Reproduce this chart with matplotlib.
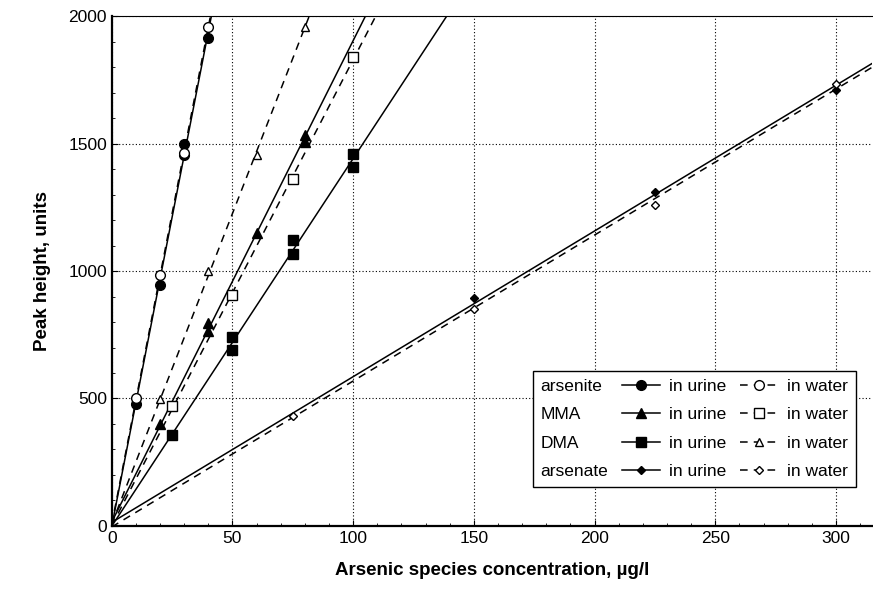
import numpy as np
import matplotlib.pyplot as plt
from matplotlib.lines import Line2D

plt.rcParams['font.family'] = ['Liberation Sans', 'DejaVu Sans']

# arsenite
as3_urine_x = [0, 10, 20, 30, 30, 40]
as3_urine_y = [0, 480, 945, 1500, 1455, 1915]
as3_water_x = [0, 10, 20, 30, 40]
as3_water_y = [0, 500, 985, 1465, 1957]
# MMA
mma_urine_x = [0, 20, 40, 40, 60, 80, 80]
mma_urine_y = [0, 400, 795, 765, 1150, 1535, 1505]
mma_water_x = [0, 25, 50, 75, 100]
mma_water_y = [0, 470, 905, 1360, 1840]
# DMA
dma_urine_x = [0, 25, 50, 50, 75, 75, 100, 100]
dma_urine_y = [0, 357, 690, 741, 1065, 1120, 1410, 1460]
dma_water_x = [0, 20, 40, 60, 80]
dma_water_y = [0, 498, 1000, 1455, 1957]
# arsenate
as5_urine_x = [0, 150, 225, 300]
as5_urine_y = [0, 894, 1310, 1710]
as5_water_x = [0, 75, 150, 225, 300]
as5_water_y = [0, 431, 851, 1259, 1733]

species = ['arsenite', 'MMA', 'DMA', 'arsenate']

fig = plt.figure(figsize=(8.73, 5.99), dpi=100)
ax = fig.add_axes([0.128, 0.122, 0.871, 0.851])

xmax = 315
xs = np.array([0, xmax])


def draw(x, y, marker, ms, filled, dashed):
    k, b = np.polyfit(x, y, 1)
    ls = (0, (5, 4)) if dashed else '-'
    ax.plot(xs, k * xs + b, color='black', lw=1.1, ls=ls, zorder=2)
    fc = 'black' if filled else 'white'
    ax.plot(x[1:], y[1:], ls='none', marker=marker, ms=ms, mfc=fc,
            mec='black', mew=1.0, zorder=3)
    return Line2D([], [], color='black', lw=1.1, ls=ls, marker=marker,
                  ms=ms, mfc=fc, mec='black')


h_urine = [
    draw(as3_urine_x, as3_urine_y, 'o', 7, True, False),
    draw(mma_urine_x, mma_urine_y, '^', 7, True, False),
    draw(dma_urine_x, dma_urine_y, 's', 7, True, False),
    draw(as5_urine_x, as5_urine_y, 'D', 4, True, False),
]
h_water = [
    draw(as3_water_x, as3_water_y, 'o', 7, False, True),
    draw(mma_water_x, mma_water_y, 's', 7, False, True),
    draw(dma_water_x, dma_water_y, '^', 6, False, True),
    draw(as5_water_x, as5_water_y, 'D', 4, False, True),
]

ax.set_xlim(0, xmax)
ax.set_ylim(0, 2000)
ax.set_xticks([0, 50, 100, 150, 200, 250, 300])
ax.set_yticks([0, 500, 1000, 1500, 2000])
ax.set_xticks(np.arange(0, xmax, 10), minor=True)
ax.set_yticks(np.arange(0, 2001, 100), minor=True)
ax.tick_params(axis='both', which='major', labelsize=12.5, length=4, direction='in')
ax.tick_params(axis='both', which='minor', length=2, direction='in')
ax.grid(True, which='major', ls=(0, (1, 2)), color='black', lw=0.8)
ax.spines['right'].set_visible(False)
for s in ['left', 'bottom']:
    ax.spines[s].set_linewidth(1.6)

ax.set_xlabel('Arsenic species concentration, µg/l', fontsize=13.5,
              fontweight='bold', labelpad=12)
ax.set_ylabel('Peak height, units', fontsize=13.5, fontweight='bold', labelpad=12)

blank = [Line2D([], [], ls='none') for _ in species]
handles = blank + h_urine + h_water
labels = species + ['in urine'] * 4 + ['in water'] * 4
leg = ax.legend(handles, labels, ncol=3, loc='lower right',
                bbox_to_anchor=(0.99, 0.06), fontsize=12.5, frameon=True,
                fancybox=False, edgecolor='black', framealpha=1,
                handlelength=2.2, handletextpad=0.5, columnspacing=0.8,
                labelspacing=0.75, borderpad=0.45)
leg.get_frame().set_linewidth(1.0)

# the species-name column needs no handle space
for row in leg._legend_handle_box.get_children()[0].get_children():
    row.get_children()[0].width = 0
    row.sep = 0

fig.savefig('out.png', dpi=100)
